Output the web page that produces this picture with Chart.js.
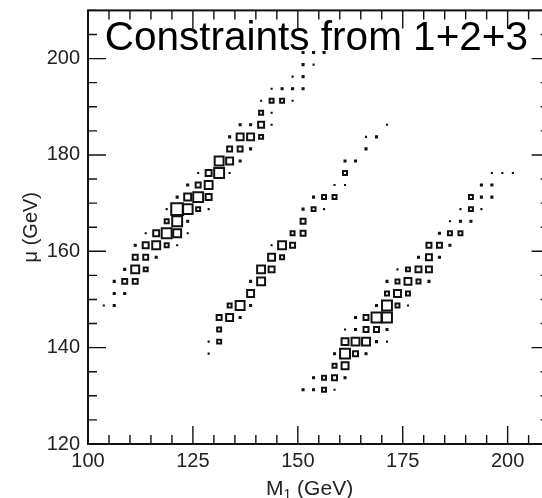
<!DOCTYPE html>
<html>
<head>
<meta charset="utf-8">
<script src="https://cdn.jsdelivr.net/npm/chart.js@4.4.1/dist/chart.umd.min.js"></script>
<style>
html,body{margin:0;padding:0;overflow:hidden;background:#fff;width:542px;height:498px}
canvas{display:block}
</style>
</head>
<body>
<canvas id="c" width="560" height="498"></canvas>
<script>
// ---- texts ----
const titleText = 'Constraints from 1+2+3';
const xTitleParts = ['M', '1', ' (GeV)'];   // M with subscript 1
const yTitle = '\u03bc (GeV)';

// ---- axis settings (GeV) ----
const xRange = [100, 210];
const yRange = [120, 210];
const xMajorStep = 25;
const yMajorStep = 20;
const minorStep = 5;

// ---- data: [M1 (GeV), mu (GeV), bin content] ----
const band1 = [
  [103.75,148.75,1],[106.25,148.75,2],
  [106.25,151.25,2],[108.75,151.25,2],
  [106.25,153.75,2],[108.75,153.75,5],[111.25,153.75,5],
  [108.75,156.25,2],[111.25,156.25,8],[113.75,156.25,4],
  [111.25,158.75,5],[113.75,158.75,5],[116.25,158.75,2],
  [111.25,161.25,2],[113.75,161.25,6],[116.25,161.25,8],[118.75,161.25,4],[121.25,161.25,1],
  [113.75,163.75,1],[116.25,163.75,6],[118.75,163.75,10],[121.25,163.75,8],[123.75,163.75,1],
  [118.75,166.25,4],[121.25,166.25,10],[123.75,166.25,2],
  [118.75,168.75,1],[121.25,168.75,12],[123.75,168.75,10],[126.25,168.75,4],[128.75,168.75,1],
  [121.25,171.25,2],[123.75,171.25,7],[126.25,171.25,10],[128.75,171.25,6],
  [123.75,173.75,2],[126.25,173.75,5],[128.75,173.75,8],
  [126.25,176.25,1],[128.75,176.25,6],[131.25,176.25,10],[133.75,176.25,1],
  [131.25,178.75,9],[133.75,178.75,7],[136.25,178.75,2],
  [133.75,181.25,5],[136.25,181.25,5],[138.75,181.25,2],
  [133.75,183.75,2],[136.25,183.75,7],[138.75,183.75,7],[141.25,183.75,4],
  [136.25,186.25,2],[138.75,186.25,2],[141.25,186.25,6],[143.75,186.25,1],
  [141.25,188.75,4],[143.75,188.75,1],
  [141.25,191.25,1],[143.75,191.25,4],[146.25,191.25,4],[148.75,191.25,1],
  [143.75,193.75,1],[146.25,193.75,2],[148.75,193.75,2],[151.25,193.75,2],
  [148.75,196.25,1],[151.25,196.25,2],
  [151.25,198.75,2],[153.75,198.75,1],
  [151.25,201.25,2],[153.75,201.25,2],[156.25,201.25,2]
];
const band2 = [
  [128.75,138.75,1],
  [128.75,141.25,1],[131.25,141.25,4],
  [131.25,143.75,4],
  [131.25,146.25,5],[133.75,146.25,7],[136.25,146.25,2],
  [133.75,148.75,4],[136.25,148.75,9],[138.75,148.75,2],
  [138.75,151.25,7],
  [138.75,153.75,2],[141.25,153.75,8],
  [141.25,156.25,8],[143.75,156.25,6],
  [143.75,158.75,7],[146.25,158.75,4],
  [143.75,161.25,1],[146.25,161.25,8],[148.75,161.25,5],
  [148.75,163.75,4],[151.25,163.75,5],
  [151.25,166.25,5],
  [151.25,168.75,2],[153.75,168.75,4],[156.25,168.75,1],
  [153.75,171.25,2],[156.25,171.25,4],[158.75,171.25,4],
  [158.75,173.75,1],[161.25,173.75,1],
  [161.25,176.25,4],
  [161.25,178.75,2],[163.75,178.75,2],
  [166.25,181.25,2],
  [166.25,183.75,1],[168.75,183.75,2],
  [171.25,186.25,1]
];
const band3 = [
  [151.25,131.25,2],[153.75,131.25,2],[156.25,131.25,4],[158.75,131.25,1],
  [153.75,133.75,2],[156.25,133.75,4],[158.75,133.75,5],[161.25,133.75,2],
  [158.75,136.25,4],[161.25,136.25,7],
  [158.75,138.75,2],[161.25,138.75,10],[163.75,138.75,5],[166.25,138.75,2],
  [161.25,141.25,7],[163.75,141.25,8],[166.25,141.25,8],[168.75,141.25,2],[171.25,141.25,1],
  [161.25,143.75,1],[163.75,143.75,2],[166.25,143.75,5],[168.75,143.75,5],[171.25,143.75,2],
  [163.75,146.25,2],[166.25,146.25,5],[168.75,146.25,10],[171.25,146.25,10],
  [168.75,148.75,2],[171.25,148.75,10],[173.75,148.75,4],[176.25,148.75,1],
  [171.25,151.25,4],[173.75,151.25,7],[176.25,151.25,4],
  [171.25,153.75,2],[173.75,153.75,4],[176.25,153.75,7],[178.75,153.75,4],[181.25,153.75,2],
  [173.75,156.25,1],[176.25,156.25,4],[178.75,156.25,6],[181.25,156.25,6],
  [178.75,158.75,2],[181.25,158.75,6],[183.75,158.75,2],
  [181.25,161.25,5],[183.75,161.25,5],[186.25,161.25,2],
  [183.75,163.75,2],[186.25,163.75,4],[188.75,163.75,4],
  [186.25,166.25,1],[188.75,166.25,2],[191.25,166.25,2],
  [188.75,168.75,1],[191.25,168.75,4],[193.75,168.75,1],
  [191.25,171.25,4],[193.75,171.25,2],[196.25,171.25,2],
  [193.75,173.75,2],[196.25,173.75,2],
  [196.25,176.25,1],[198.75,176.25,1],[201.25,176.25,1]
];

// ---- build ----
const FONT = '"Liberation Sans", Arial, Helvetica, sans-serif';
const INK = '#111';
const boxScale = 0.7; // bubble radius per unit of bin content
const toPoints = arr => arr.map(p => ({x: p[0], y: p[1], r: p[2] * boxScale, n: p[2]}));

function boxDataset(arr) {
  return {
    data: toPoints(arr),
    pointStyle: 'rect',
    borderColor: INK,
    backgroundColor: c => (c.raw && c.raw.n <= 2) ? INK : 'rgba(0,0,0,0)',
    borderWidth: c => (c.raw && c.raw.n <= 2) ? 1.1 : 2,
    hoverRadius: 0
  };
}

// target frame in canvas pixels
const target = { left: 88, top: 10, right: 553, bottom: 444 };

const framePlugin = {
  id: 'frame',
  afterDatasetsDraw(chart) {
    const {ctx, chartArea: a} = chart;
    const xs = chart.scales.x, ys = chart.scales.y;
    ctx.save();
    ctx.strokeStyle = INK;
    ctx.lineWidth = 1.4;
    ctx.beginPath();
    xs.ticks.forEach(t => {
      const px = xs.getPixelForValue(t.value);
      const L = (t.value % xMajorStep === 0) ? 18 : 9;
      ctx.moveTo(px, a.bottom); ctx.lineTo(px, a.bottom - L);
      ctx.moveTo(px, a.top); ctx.lineTo(px, a.top + L);
    });
    ys.ticks.forEach(t => {
      const py = ys.getPixelForValue(t.value);
      const L = (t.value % yMajorStep === 0) ? 18 : 9;
      ctx.moveTo(a.left, py); ctx.lineTo(a.left + L, py);
      ctx.moveTo(a.right, py); ctx.lineTo(a.right - L, py);
    });
    ctx.stroke();
    ctx.lineWidth = 2;
    ctx.strokeRect(a.left, a.top, a.right - a.left, a.bottom - a.top);

    // plot label placed in data coordinates
    ctx.fillStyle = '#000';
    ctx.font = '40.5px ' + FONT;
    ctx.textBaseline = 'alphabetic';
    ctx.textAlign = 'left';
    ctx.fillText(titleText, xs.getPixelForValue(104.0), ys.getPixelForValue(201.7));

    // x axis title with a true subscript
    ctx.fillStyle = '#222';
    const big = '21px ' + FONT, small = '14px ' + FONT;
    ctx.font = big;  const w0 = ctx.measureText(xTitleParts[0]).width;
    ctx.font = small; const w1 = ctx.measureText(xTitleParts[1]).width;
    ctx.font = big;  const w2 = ctx.measureText(xTitleParts[2]).width;
    const x0 = xs.getPixelForValue(152.8) - (w0 + w1 + w2) / 2;
    const base = a.bottom + 51;
    ctx.font = big;   ctx.fillText(xTitleParts[0], x0, base);
    ctx.font = small; ctx.fillText(xTitleParts[1], x0 + w0, base + 4);
    ctx.font = big;   ctx.fillText(xTitleParts[2], x0 + w0 + w1, base);
    ctx.restore();
  }
};

const noGrid = { display: false, drawTicks: false, tickLength: 0 };

const chart = new Chart(document.getElementById('c'), {
  type: 'bubble',
  data: { datasets: [boxDataset(band1), boxDataset(band2), boxDataset(band3)] },
  options: {
    responsive: false,
    animation: false,
    events: [],
    layout: { padding: { left: 0, right: 7, top: 10, bottom: 0 } },
    plugins: { legend: { display: false }, tooltip: { enabled: false } },
    scales: {
      x: {
        type: 'linear', min: xRange[0], max: xRange[1],
        grid: noGrid, border: { display: false },
        ticks: {
          stepSize: minorStep, autoSkip: false, maxRotation: 0, padding: 5,
          color: '#222', font: { family: FONT, size: 20 },
          callback: v => (v % xMajorStep === 0 ? v : '')
        },
        afterFit: s => { s.height = 54; s.paddingLeft = 0; s.paddingRight = 0; }
      },
      y: {
        type: 'linear', min: yRange[0], max: yRange[1],
        grid: noGrid, border: { display: false },
        ticks: {
          stepSize: minorStep, autoSkip: false, padding: 8,
          color: '#222', font: { family: FONT, size: 20 },
          callback: v => (v % yMajorStep === 0 ? v : '')
        },
        title: { display: true, text: yTitle, color: '#222', font: { family: FONT, size: 20 }, padding: { top: 19, bottom: 0 } },
        afterFit: s => { s.width = 88; s.paddingTop = 0; s.paddingBottom = 0; }
      }
    }
  },
  plugins: [framePlugin]
});

// nudge layout padding so the plot frame lands on the target rectangle
for (let k = 0; k < 4; k++) {
  const a = chart.chartArea;
  const p = chart.config.options.layout.padding;
  const d = [target.top - a.top, target.left - a.left, a.right - target.right, a.bottom - target.bottom];
  if (d.every(v => Math.abs(v) < 0.5)) break;
  p.top += d[0];
  p.left += d[1];
  p.right += d[2];
  p.bottom += d[3];
  chart.update();
}
</script>
</body>
</html>
